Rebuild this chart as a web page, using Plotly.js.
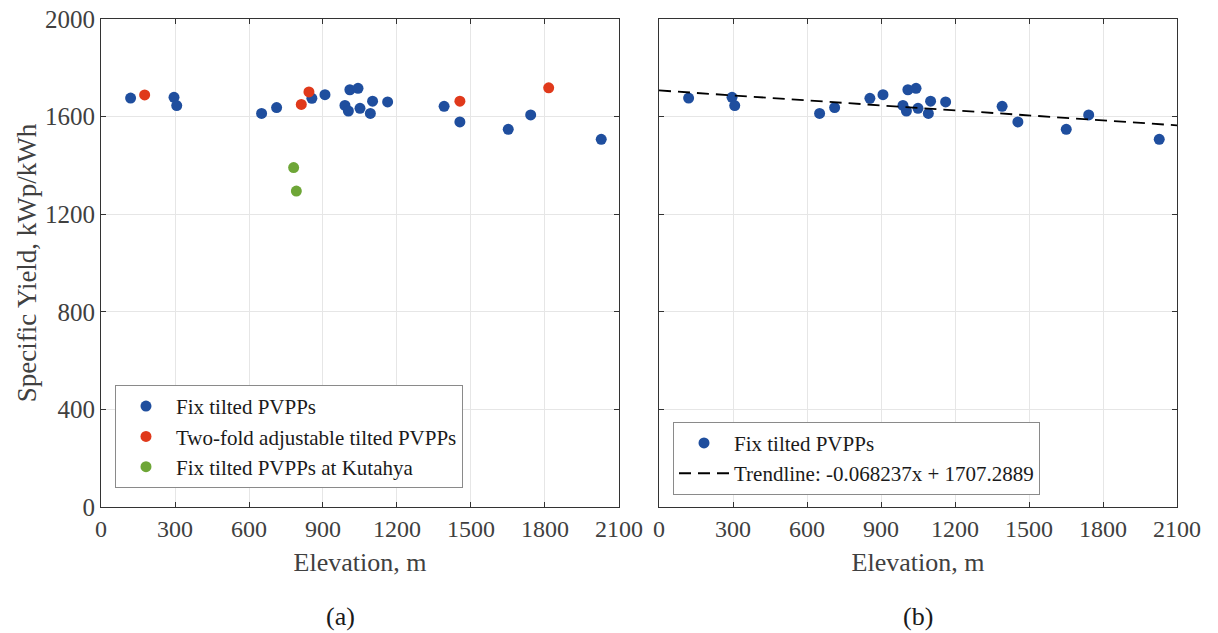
<!DOCTYPE html>
<html>
<head>
<meta charset="utf-8">
<script src="https://cdn.plot.ly/plotly-3.0.1.min.js"></script>
<style>body{margin:0;background:#fff;} #chart{width:1218px;height:633px;}</style>
</head>
<body>
<div id="chart"></div>
<script>
// Fix tilted PVPPs
const fixX = [120, 296, 307, 651, 712, 855, 908, 989, 1003, 1009, 1042, 1050, 1092, 1101, 1162, 1391, 1455, 1651, 1742, 2028];
const fixY = [1676, 1679, 1645, 1613, 1637, 1675, 1690, 1646, 1623, 1710, 1716, 1634, 1613, 1663, 1660, 1642, 1578, 1548, 1607, 1507];
// Two-fold adjustable tilted PVPPs
const twoX = [177, 812, 843, 1455, 1815];
const twoY = [1689, 1650, 1701, 1663, 1718];
// Fix tilted PVPPs at Kutahya
const kutX = [781, 792];
const kutY = [1391, 1295];
// Trendline endpoints (from legend equation)
const trendX = [0, 2100];
const trendY = [1707.3, 1564.0];
const xTicks = [0, 300, 600, 900, 1200, 1500, 1800, 2100];
const yTicks = [0, 400, 800, 1200, 1600, 2000];

const BLUE = '#1f4e9e', RED = '#e0391b', GREEN = '#6ea637';
const FONT = '"Liberation Serif", "Times New Roman", serif';
const TXT = '#404040';

const traces = [
  {x: fixX, y: fixY, type: 'scatter', mode: 'markers', name: 'Fix tilted PVPPs',
   marker: {color: BLUE, size: 11}, xaxis: 'x', yaxis: 'y', legend: 'legend'},
  {x: twoX, y: twoY, type: 'scatter', mode: 'markers', name: 'Two-fold adjustable tilted PVPPs',
   marker: {color: RED, size: 11}, xaxis: 'x', yaxis: 'y', legend: 'legend'},
  {x: kutX, y: kutY, type: 'scatter', mode: 'markers', name: 'Fix tilted PVPPs at Kutahya',
   marker: {color: GREEN, size: 11}, xaxis: 'x', yaxis: 'y', legend: 'legend'},
  {x: fixX, y: fixY, type: 'scatter', mode: 'markers', name: 'Fix tilted PVPPs',
   marker: {color: BLUE, size: 11}, xaxis: 'x2', yaxis: 'y2', legend: 'legend2'},
  {x: trendX, y: trendY, type: 'scatter', mode: 'lines', name: 'Trendline: -0.068237x + 1707.2889',
   line: {color: '#000', width: 1.8, dash: '12px,7px'}, xaxis: 'x2', yaxis: 'y2', legend: 'legend2'}
];

function xax(domain, anchor) {
  return {
    domain: domain, anchor: anchor, range: [0, 2100], tickvals: xTicks,
    ticks: 'inside', ticklen: 5, tickcolor: '#333', showline: true, linecolor: '#333', linewidth: 1,
    mirror: 'ticks', showgrid: true, gridcolor: '#e6e6e6', zeroline: false,
    tickfont: {family: FONT, size: 24, color: TXT},
    title: {text: 'Elevation, m', font: {family: FONT, size: 26, color: TXT}, standoff: 12}
  };
}
function yax(anchor, showLabels, title) {
  return {
    anchor: anchor, range: [0, 2000], tickvals: yTicks, showticklabels: showLabels,
    ticks: 'inside', ticklen: 5, tickcolor: '#333', showline: true, linecolor: '#333', linewidth: 1,
    mirror: 'ticks', showgrid: true, gridcolor: '#e6e6e6', zeroline: false,
    tickfont: {family: FONT, size: 25, color: TXT},
    title: title ? {text: title, font: {family: FONT, size: 27, color: TXT}, standoff: 0} : {text: ''}
  };
}

const legendBase = {
  bgcolor: '#fff', bordercolor: '#8a8a8a', borderwidth: 1,
  font: {family: FONT, size: 21, color: '#1a1a1a'},
  xanchor: 'left', yanchor: 'bottom', tracegroupgap: 0, itemwidth: 50
};

const layout = {
  width: 1218, height: 633,
  margin: {l: 101, r: 41, t: 19, b: 126},
  paper_bgcolor: '#fff', plot_bgcolor: '#fff',
  xaxis: xax([0, 0.4814], 'y'),
  yaxis: yax('x', true, 'Specific Yield, kWp/kWh'),
  xaxis2: xax([0.5186, 1], 'y2'),
  yaxis2: yax('x2', false, null),
  legend: Object.assign({}, legendBase, {x: 0.013, y: 0.039}),
  legend2: Object.assign({}, legendBase, {x: 0.5316, y: 0.025}),
  showlegend: true,
  annotations: [
    {text: '(a)', xref: 'paper', yref: 'paper', x: 0.2224, y: -0.225, yanchor: 'middle', xanchor: 'center',
     showarrow: false, font: {family: FONT, size: 26, color: '#1a1a1a'}},
    {text: '(b)', xref: 'paper', yref: 'paper', x: 0.7593, y: -0.225, yanchor: 'middle', xanchor: 'center',
     showarrow: false, font: {family: FONT, size: 26, color: '#1a1a1a'}}
  ]
};

Plotly.newPlot('chart', traces, layout, {displayModeBar: false, staticPlot: true});
</script>
</body>
</html>
